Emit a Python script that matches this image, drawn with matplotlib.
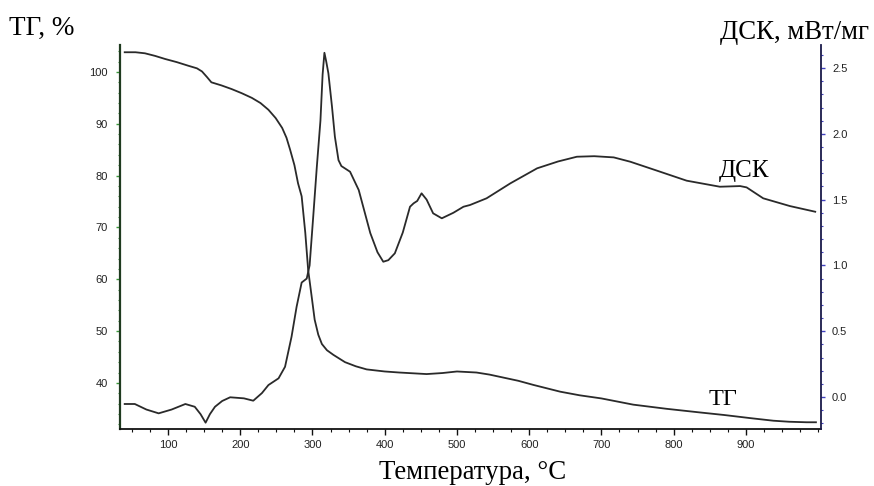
import matplotlib
matplotlib.use("Agg")
import matplotlib.pyplot as plt
from matplotlib import font_manager
from matplotlib.ticker import MultipleLocator, FormatStrFormatter

# TG curve, % (left axis)
tg_temp = [40, 55, 68, 82, 96, 112, 128, 140, 147, 154, 160, 174, 188, 202, 216, 228,
           239, 249, 258, 264, 269, 275, 280, 285, 290, 294, 299, 303, 308, 313, 320,
           329, 345, 360, 375, 400, 420, 458, 480, 500, 527, 545, 565, 585, 606, 643,
           670, 700, 744, 790, 836, 870, 906, 938, 960, 984, 997]
tg_val = [103.8, 103.8, 103.6, 103.1, 102.5, 101.9, 101.2, 100.7, 100.1, 99.0, 98.0,
          97.4, 96.7, 95.9, 95.0, 94.0, 92.7, 91.1, 89.2, 87.3, 85.0, 82.0, 78.5,
          76.0, 69.0, 61.8, 56.5, 52.2, 49.3, 47.5, 46.3, 45.4, 44.0, 43.2, 42.6,
          42.2, 42.0, 41.7, 41.9, 42.2, 42.0, 41.6, 41.0, 40.4, 39.6, 38.3, 37.6,
          37.0, 35.8, 35.0, 34.3, 33.8, 33.2, 32.7, 32.5, 32.4, 32.4]

# DSC curve, mW/mg (right axis)
dsc_temp = [40, 54, 70, 87, 105, 124, 137, 145, 152, 158, 165, 175, 186, 205, 218,
            230, 239, 253, 262, 271, 278, 285, 292, 296, 301, 306, 311, 314, 316.5,
            319, 322, 327, 331, 336, 340, 352, 364, 380, 390, 398, 405, 414, 425,
            435, 440, 445, 451, 458, 467, 479, 495, 509, 518, 541, 574, 611, 640,
            666, 690, 717, 740, 777, 818, 864, 892, 901, 924, 961, 996]
dsc_val = [-0.053, -0.053, -0.095, -0.124, -0.095, -0.053, -0.074, -0.13, -0.195,
           -0.13, -0.074, -0.03, -0.002, -0.01, -0.028, 0.03, 0.091, 0.142, 0.23,
           0.458, 0.686, 0.87, 0.90, 1.0, 1.37, 1.75, 2.1, 2.45, 2.616, 2.55, 2.46,
           2.206, 1.978, 1.80, 1.755, 1.712, 1.573, 1.246, 1.10, 1.028, 1.04, 1.092,
           1.25, 1.446, 1.472, 1.49, 1.548, 1.50, 1.396, 1.358, 1.40, 1.446, 1.459,
           1.51, 1.624, 1.738, 1.79, 1.826, 1.83, 1.821, 1.788, 1.72, 1.644, 1.598,
           1.603, 1.593, 1.51, 1.451, 1.408]

names = {f.name for f in font_manager.fontManager.ttflist}
tick_font = "Liberation Sans Narrow" if "Liberation Sans Narrow" in names else "Liberation Sans"
serif = "Liberation Serif"

fig = plt.figure(figsize=(8.74, 4.86), dpi=100)
ax = fig.add_axes([120 / 874, 1 - 429 / 486, 701 / 874, 384 / 486])
ax2 = ax.twinx()

line_color = "#2a2a2a"
ax.plot(tg_temp, tg_val, color=line_color, lw=1.3)
ax2.plot(dsc_temp, dsc_val, color=line_color, lw=1.3)

ax.set_xlim(33.5, 1004)
ax.set_ylim(31.1, 105.2)
ax2.set_ylim(-0.243, 2.675)

ax.spines["top"].set_visible(False)
ax2.spines["top"].set_visible(False)
ax.spines["right"].set_visible(False)
ax2.spines["left"].set_visible(False)
ax2.spines["bottom"].set_visible(False)
ax.spines["left"].set_color("#1f3a1f")
ax.spines["left"].set_linewidth(1.6)
ax2.spines["right"].set_color("#1a1a4a")
ax2.spines["right"].set_linewidth(1.3)
ax.spines["bottom"].set_color("#111111")
ax.spines["bottom"].set_linewidth(1.3)

ax.set_xticks([100, 200, 300, 400, 500, 600, 700, 800, 900])
ax.xaxis.set_minor_locator(MultipleLocator(25))
ax.yaxis.set_major_locator(MultipleLocator(10))
ax.yaxis.set_minor_locator(MultipleLocator(2))
ax2.yaxis.set_major_locator(MultipleLocator(0.5))
ax2.yaxis.set_minor_locator(MultipleLocator(0.1))
ax2.yaxis.set_major_formatter(FormatStrFormatter("%.1f"))

ax.tick_params(axis="x", which="major", length=4, width=1, color="#111111", pad=4,
               labelsize=8, labelcolor="#222222")
ax.tick_params(axis="x", which="minor", length=2.5, width=0.8, color="#111111")
ax.tick_params(axis="y", which="major", length=3, width=1, color="#3a9a3a", pad=6,
               labelsize=8, labelcolor="#222222")
ax.tick_params(axis="y", which="minor", length=1.5, width=0.8, color="#3a9a3a")
ax2.tick_params(axis="y", which="major", length=3, width=1, color="#4040c0", pad=5,
                labelsize=8, labelcolor="#222222")
ax2.tick_params(axis="y", which="minor", length=1.5, width=0.8, color="#4040c0")

for lab in ax.get_xticklabels() + ax.get_yticklabels() + ax2.get_yticklabels():
    lab.set_fontfamily(tick_font)

fig.text(9 / 874, 1 - 35 / 486, "ТГ, %", family=serif, fontsize=19.5,
         ha="left", va="baseline")
fig.text(869 / 874, 1 - 39 / 486, "ДСК, мВт/мг", family=serif, fontsize=19.3,
         ha="right", va="baseline")
fig.text(472.5 / 874, 1 - 479 / 486, "Температура, °C", family=serif, fontsize=19.4,
         ha="center", va="baseline")
ax.text(862, 79.8, "ДСК", family=serif, fontsize=18, ha="left", va="baseline")
ax.text(848, 35.75, "ТГ", family=serif, fontsize=17.5, ha="left", va="baseline")

fig.savefig("out.png", dpi=100)
